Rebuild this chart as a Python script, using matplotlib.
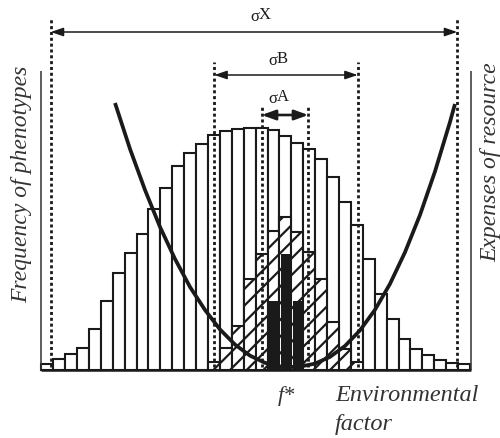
import numpy as np
import matplotlib
matplotlib.use('Agg')
import matplotlib.pyplot as plt

# ---------------- data ----------------
n_bins = 36
freq_X = [6, 11, 16, 22, 41, 69, 97, 117, 136, 161, 182, 204, 217, 226, 235, 239, 241, 242,
          242, 240, 234, 227, 221, 211, 193, 168, 145, 111, 76, 51, 31, 21, 15, 10, 7, 6]
bins_B = [14, 15, 16, 17, 18, 19, 20, 21, 22, 23, 24, 25, 26]
freq_B = [8, 22, 44, 91, 116, 139, 153, 138, 118, 91, 48, 21, 8]
bins_A = [19, 20, 21]
freq_A = [69, 116, 69]

# expenses-of-resource curve, points
cost_x = [6.19, 7.45, 8.71, 9.97, 11.23, 12.49, 13.75, 15.01, 16.27, 17.52, 18.78, 20.04,
          20.89, 21.73, 22.99, 24.24, 25.50, 26.76, 28.02, 29.28, 30.54, 31.80, 33.06,
          34.32, 34.74]
cost_y = [267, 221, 180, 143, 111, 83, 60, 40.5, 25.4, 14.4, 7.2, 3.6,
          3, 3.4, 6.4, 13.1, 24, 39.6, 60.2, 86.1, 117.7, 155, 198.5, 248, 266]

sigma_X = (0.79, 34.93)
sigma_B = (14.53, 26.57)
sigma_A = (18.51, 22.42)

# ---------------- figure ----------------
W, H = 500, 438
fig = plt.figure(figsize=(W / 100, H / 100), dpi=100)
ax = fig.add_axes([0, 0, 1, 1])
ax.set_xlim(-3.468, 38.52)
ax.set_ylim(-68, 370)
ax.axis('off')

plt.rcParams['hatch.linewidth'] = 1.6
SERIF = 'Liberation Serif'
ink = '#1a1a1a'

centers = np.arange(n_bins) + 0.5
ax.bar(centers, freq_X, width=1.0, facecolor='white', edgecolor=ink, linewidth=1.5, zorder=2)
ax.bar(np.array(bins_B) + 0.5, freq_B, width=1.0, facecolor='white', edgecolor=ink,
       linewidth=1.5, hatch='//', zorder=2.5)

# axes lines
top_axis = 299
right_x = 36.06
ax.plot([0, 0], [0, top_axis], color='#333333', lw=1.1, zorder=3, solid_capstyle='butt')
ax.plot([right_x, right_x], [0, top_axis], color='#333333', lw=1.1, zorder=3, solid_capstyle='butt')
ax.plot([0, right_x], [0, 0], color=ink, lw=1.8, zorder=3, solid_capstyle='butt')

# dotted limits
dot = dict(color=ink, lw=2.0, linestyle=(0, (1.1, 1.0)), dash_capstyle='butt', zorder=3.5)
for xs, top in ((sigma_X, 353), (sigma_B, 308), (sigma_A, 265)):
    for xv in xs:
        ax.plot([xv, xv], [3, top], **dot)

# arrows
def darrow(xs, y, lw, hw=0.17, hl=0.5):
    ax.annotate('', xy=(xs[1], y), xytext=(xs[0], y),
                arrowprops=dict(arrowstyle='<|-|>,head_length=%s,head_width=%s' % (hl, hw),
                                mutation_scale=15, color=ink, lw=lw,
                                shrinkA=0, shrinkB=0), zorder=4)

darrow(sigma_X, 338, 1.1)
darrow(sigma_B, 295, 1.1)
darrow(sigma_A, 255, 1.9, hw=0.2, hl=0.55)

# curve
ax.plot(cost_x, cost_y, color=ink, lw=2.7, zorder=4.5, solid_capstyle='butt')

# narrow histogram
ax.bar(np.array(bins_A) + 0.5, freq_A, width=0.75, color=ink, edgecolor='none', zorder=5)

# ---------------- texts (pixel positions) ----------------
def ptext(x, y, s, **kw):
    fig.text(x / W, 1 - y / H, s, **kw)

def sig(x, ybase, letter):
    ptext(x, ybase, 'σ', fontsize=12, family=SERIF, color=ink, ha='left', va='baseline')
    ptext(x + 8.5, ybase - 2, letter, fontsize=12, family=SERIF, color=ink, ha='left', va='baseline')

sig(250, 21, 'X')
sig(268, 65, 'B')
sig(268, 103, 'A')

ptext(22, 184, 'Frequency of phenotypes', fontsize=17, family=SERIF, style='italic',
      color='#333333', rotation=90, ha='center', va='center')
ptext(491, 162, 'Expenses of resource', fontsize=17, family=SERIF, style='italic',
      color='#333333', rotation=90, ha='center', va='center')
ptext(286, 401, 'f*', fontsize=16, family=SERIF, style='italic', color='#333333',
      ha='center', va='baseline')
ptext(335, 401, 'Environmental', fontsize=17.5, family=SERIF, style='italic', color='#333333',
      ha='left', va='baseline')
ptext(335, 430, 'factor', fontsize=17.5, family=SERIF, style='italic', color='#333333',
      ha='left', va='baseline')

fig.savefig('out.png', dpi=100)
